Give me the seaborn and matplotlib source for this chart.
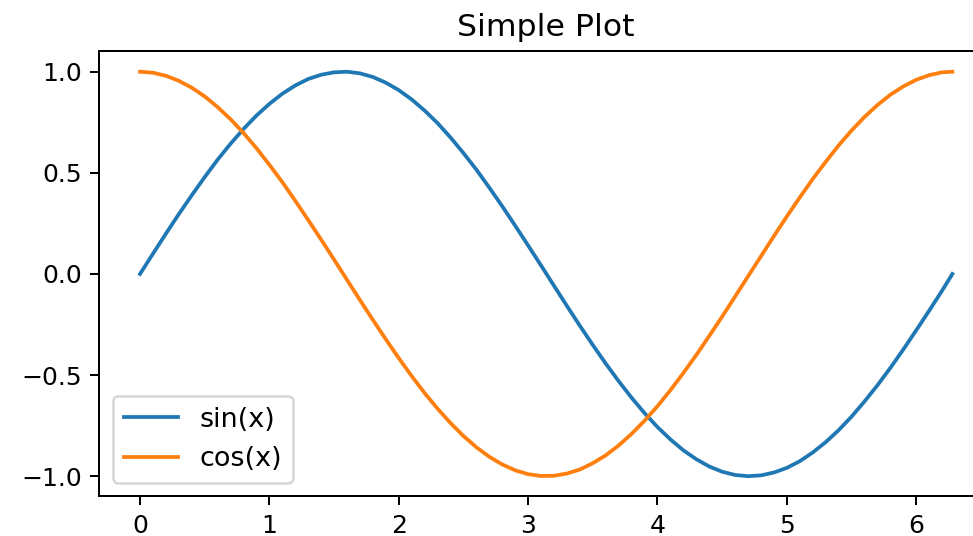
import matplotlib
matplotlib.use("Agg")
import matplotlib.pyplot as plt
from matplotlib.ticker import MultipleLocator
import seaborn as sns

# values
x_vals = [0.0, 0.1, 0.2, 0.3, 0.4, 0.5, 0.6, 0.7, 0.8, 0.9, 1.0, 1.1, 1.2, 1.3, 1.4, 1.5,
          1.6, 1.7, 1.8, 1.9, 2.0, 2.1, 2.2, 2.3, 2.4, 2.5, 2.6, 2.7, 2.8, 2.9, 3.0, 3.1,
          3.2, 3.3, 3.4, 3.5, 3.6, 3.7, 3.8, 3.9, 4.0, 4.1, 4.2, 4.3, 4.4, 4.5, 4.6, 4.7,
          4.8, 4.9, 5.0, 5.1, 5.2, 5.3, 5.4, 5.5, 5.6, 5.7, 5.8, 5.9, 6.0, 6.1, 6.2, 6.28]
sin_vals = [0.000, 0.100, 0.199, 0.296, 0.389, 0.479, 0.565, 0.644, 0.717, 0.783, 0.841,
            0.891, 0.932, 0.964, 0.985, 0.997, 1.000, 0.992, 0.974, 0.946, 0.909, 0.863,
            0.808, 0.746, 0.675, 0.598, 0.516, 0.427, 0.335, 0.239, 0.141, 0.042, -0.058,
            -0.158, -0.256, -0.351, -0.443, -0.530, -0.612, -0.688, -0.757, -0.818, -0.872,
            -0.916, -0.952, -0.978, -0.994, -1.000, -0.996, -0.982, -0.959, -0.926, -0.883,
            -0.832, -0.773, -0.706, -0.631, -0.551, -0.465, -0.374, -0.279, -0.182, -0.083,
            0.000]
cos_vals = [1.000, 0.995, 0.980, 0.955, 0.921, 0.878, 0.825, 0.765, 0.697, 0.622, 0.540,
            0.454, 0.362, 0.267, 0.170, 0.071, -0.029, -0.129, -0.227, -0.323, -0.416,
            -0.505, -0.589, -0.666, -0.737, -0.801, -0.857, -0.904, -0.942, -0.971, -0.990,
            -0.999, -0.998, -0.987, -0.967, -0.936, -0.897, -0.848, -0.791, -0.726, -0.654,
            -0.575, -0.490, -0.401, -0.307, -0.211, -0.112, -0.012, 0.087, 0.187, 0.284,
            0.378, 0.469, 0.554, 0.635, 0.709, 0.776, 0.835, 0.886, 0.927, 0.960, 0.983,
            0.997, 1.000]
series_names = ["sin(x)", "cos(x)"]
colors = ["#1f77b4", "#ff7f0e"]

DPI = 180
fig = plt.figure(figsize=(973 / DPI, 536 / DPI), dpi=DPI)
# right edge of the axes sits just past the image border, as in the reference
ax = fig.add_axes([99.4 / 973, 1 - 496.4 / 536, (993 - 99.4) / 973, (496.4 - 51.5) / 536])

for vals, name, c in zip([sin_vals, cos_vals], series_names, colors):
    sns.lineplot(x=x_vals, y=vals, ax=ax, color=c, label=name, linewidth=1.5)

ax.yaxis.set_major_locator(MultipleLocator(0.5))
ax.set_title("Simple Plot", fontsize=12.6)
ax.legend(loc="lower left", fontsize=10.8)

fig.savefig("out.png", dpi=DPI)
